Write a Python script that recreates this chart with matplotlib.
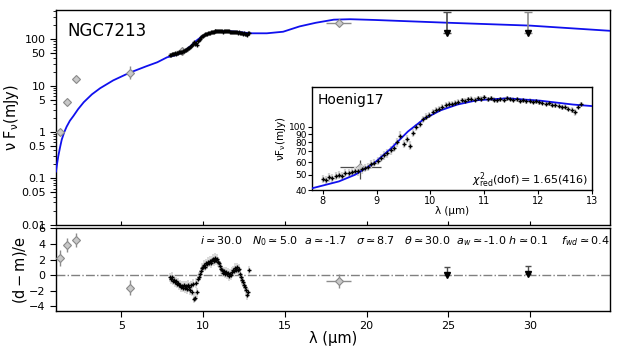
import numpy as np
import matplotlib
matplotlib.use("Agg")
import matplotlib.pyplot as plt
from matplotlib.ticker import FixedLocator, FixedFormatter, LogLocator, NullLocator, NullFormatter

# ---------------- data ----------------
# model SED (blue)
model_lam = [1.0, 1.07, 1.14, 1.25, 1.35, 1.5, 1.65, 1.85, 2.06, 2.35, 2.7, 3.2, 3.7, 4.5, 5.5,
             6.5, 7.2, 7.8, 8.3, 8.6, 8.95, 9.27, 9.58, 9.88, 10.19, 10.5, 10.87, 11.42,
             12.04, 12.65, 13.0, 13.9, 14.9, 15.9, 16.9, 18.0, 19.0, 20.5, 22.0, 25.0, 30.0, 35.0]
model_flux = [0.14, 0.21, 0.30, 0.47, 0.68, 0.98, 1.3, 1.75, 2.2, 3.1, 4.4, 6.5, 8.8, 13.0, 19.0,
              26.0, 32.0, 41.0, 45.3, 49.9, 58.9, 73.2, 93.3, 112.0, 127.0, 138.0, 147.0, 151.0,
              146.0, 138.0, 135.0, 135.0, 146.0, 190.0, 228.0, 266.0, 272.0, 262.0, 250.0, 228.0, 198.0, 152.0]

# spectrum (Hoenig17)
spec_lam = [8.00, 8.06, 8.12, 8.18, 8.24, 8.30, 8.36, 8.42, 8.48, 8.54, 8.60, 8.66, 8.72, 8.78, 8.84, 8.90, 8.96,
            9.02, 9.08, 9.14, 9.20, 9.26, 9.32, 9.38, 9.44, 9.50, 9.56, 9.62, 9.68, 9.74, 9.80, 9.86, 9.92, 9.98,
            10.04, 10.10, 10.16, 10.22, 10.28, 10.34, 10.40, 10.46, 10.52, 10.58, 10.64, 10.70, 10.76, 10.82, 10.88, 10.94,
            11.00, 11.06, 11.12, 11.18, 11.24, 11.30, 11.36, 11.42, 11.48, 11.54, 11.60, 11.66, 11.72, 11.78, 11.84, 11.90, 11.96,
            12.02, 12.08, 12.14, 12.20, 12.26, 12.32, 12.38, 12.44, 12.50, 12.56, 12.62, 12.68, 12.74, 12.80]
spec_flux = [47, 46, 48, 47.5, 49, 50, 49, 51, 51.5, 52, 53, 52.5, 54, 55, 56, 58, 59,
             61, 64, 66, 68, 71, 74, 80, 88, 78, 84, 76, 92, 99, 104, 112, 116, 119,
             124, 128, 130, 133, 137, 139, 140, 142, 144, 147, 146, 149, 150, 148, 151, 150,
             153, 149, 151, 148, 147, 149, 148, 151, 150, 148, 149, 146, 147, 145, 146, 144, 145,
             143, 142, 140, 141, 138, 137, 136, 133, 134, 130, 128, 123, 134, 139]
spec_err = [3.0, 3.0, 3.0, 3.0, 3.0, 3.0, 3.0, 3.0, 3.0, 3.0, 3.2, 3.2, 3.2, 3.2, 3.4, 3.4, 3.5,
            3.6, 3.8, 4.0, 4.2, 4.4, 4.6, 5.0, 5.5, 5.0, 5.2, 5.0, 5.4, 5.5, 5.5, 5.6, 5.6, 5.6,
            5.6, 5.6, 5.6, 5.6, 5.6, 5.6, 5.6, 5.6, 5.6, 5.8, 5.8, 5.8, 5.8, 5.8, 5.8, 5.8,
            5.8, 5.6, 5.6, 5.4, 5.2, 5.0, 5.0, 5.0, 5.0, 5.0, 5.0, 5.0, 5.0, 5.0, 5.0, 5.0, 5.0,
            5.0, 5.0, 5.0, 5.0, 5.0, 5.0, 5.0, 5.0, 5.0, 5.2, 5.4, 5.6, 5.4, 5.2]
spec_resid = [-0.3, -0.5, -0.2, -0.7, -0.6, -0.9, -0.8, -1.1, -1.0, -1.3, -1.2, -1.5, -1.4, -1.6, -1.3, -1.7, -1.4,
              -1.8, -1.2, -1.5, -1.9, -1.3, -2.1, -1.1, -3.0, -2.9, -1.0, -2.2, -0.5, -0.2, 0.1, 0.5, 0.9, 1.0,
              1.3, 1.1, 1.5, 1.4, 1.7, 1.6, 1.8, 1.5, 1.9, 2.1, 1.8, 2.2, 2.0, 1.9, 2.1, 1.7,
              1.5, 1.2, 0.8, 0.6, 0.3, 0.5, 0.2, 0.4, 0.1, 0.3, -0.1, 0.2, 0.0, 0.4, 0.6, 0.5, 0.9,
              0.7, 1.0, 0.6, 0.8, 0.2, -0.3, -0.6, -0.9, -1.2, -1.5, -1.9, -2.6, -2.2, 0.6]
spec_resid_err = [0.6] * len(spec_lam)

# photometry (grey diamonds)
phot_lam = [1.25, 1.65, 2.2, 5.5, 8.7, 18.3]
phot_flux = [1.0, 4.5, 13.8, 19.1, 56.0, 221.0]
phot_flux_lo = [0.05, 0.2, 0.6, 5.0, 9.0, 20.0]
phot_flux_hi = [0.05, 0.2, 0.6, 7.0, 6.0, 20.0]
phot_lam_err = [0.0, 0.0, 0.0, 0.0, 0.38, 0.75]
phot_resid = [2.2, 3.9, 4.5, -1.6, 0.0, -0.7]
phot_resid_err = [1.0, 0.9, 0.9, 1.0, 0.0, 0.9]

# upper limits
ul_lam = [24.9, 29.9]
ul_flux = [386.0, 386.0]
ul_arrow = [137.0, 137.0]
ul_resid = [0.0, 0.2]
ul_resid_top = [1.0, 1.15]

params_text = (r'$i \simeq 30.0$   $N_0 \simeq 5.0$  $a \simeq$-1.7   $\sigma \simeq 8.7$   '
               r'$\theta \simeq 30.0$  $a_w \simeq$-1.0 $h \simeq 0.1$    $f_{wd} \simeq 0.4$')

main_yticks = [0.01, 0.05, 0.1, 0.5, 1, 5, 10, 50, 100]
main_yticklabels = ['0.01', '0.05', '0.1', '0.5', '1', '5', '10', '50', '100']
inset_yticks = [40, 50, 60, 70, 80, 90, 100]
res_yticks = [-4, -2, 0, 2, 4, 6]
res_xticks = [5, 10, 15, 20, 25, 30]
inset_xticks = [8, 9, 10, 11, 12, 13]

# ---------------- figure ----------------
W, H = 623, 346
fig = plt.figure(figsize=(W / 100, H / 100), dpi=100)

def frac(l, t, r, b):
    return [l / W, 1 - b / H, (r - l) / W, (b - t) / H]

ax = fig.add_axes(frac(56, 10, 610, 225))
axr = fig.add_axes(frac(56, 228, 610, 311))
axi = fig.add_axes(frac(312, 87, 592, 190))

blue = '#1010ee'
diam_face = '#c8c8c8'
diam_edge = '#8a8a8a'

def draw_sed(a):
    a.plot(model_lam, model_flux, color=blue, lw=1.3, zorder=3)
    a.errorbar(spec_lam, spec_flux, yerr=spec_err, fmt='none', ecolor='0.82', elinewidth=1.6, zorder=2)
    a.plot(spec_lam, spec_flux, ls='none', marker='+', ms=3.5, mew=1.0, color='k', zorder=4)

# main panel
draw_sed(ax)
for k in range(len(phot_lam)):
    ax.errorbar(phot_lam[k], phot_flux[k],
                yerr=[[phot_flux_lo[k]], [phot_flux_hi[k]]],
                xerr=phot_lam_err[k] if phot_lam_err[k] > 0 else None,
                fmt='D', ms=4.5, mfc=diam_face, mec=diam_edge, mew=0.8,
                ecolor='0.55', elinewidth=1.0, zorder=3 if k != 4 else 3.5)
for k, ul_c in enumerate(['0.3', '0.55']):
    ax.errorbar(ul_lam[k], ul_arrow[k], yerr=[[0], [ul_flux[k] - ul_arrow[k]]],
                fmt='v', ms=5, color='k', ecolor=ul_c, elinewidth=1.2, capsize=3, capthick=1.0, zorder=5)

ax.set_yscale('log')
ax.set_xlim(1.0, 34.9)
ax.set_ylim(0.0098, 430)
ax.yaxis.set_major_locator(FixedLocator(main_yticks))
ax.yaxis.set_major_formatter(FixedFormatter(main_yticklabels))
ax.yaxis.set_minor_locator(LogLocator(base=10, subs=np.arange(2, 10)))
ax.yaxis.set_minor_formatter(NullFormatter())
ax.set_xticks(res_xticks)
ax.tick_params(axis='x', which='both', direction='in', length=3, labelbottom=False)
ax.tick_params(axis='y', which='major', direction='out', length=4, labelsize=8)
ax.tick_params(axis='y', which='minor', direction='out', length=2)
ax.set_ylabel('ν F$_{\\mathregular{ν}}$(mJy)', fontsize=10.5, labelpad=0)
ax.text(0.02, 0.9, 'NGC7213', transform=ax.transAxes, fontsize=12, ha='left', va='center')

# inset
draw_sed(axi)
axi.errorbar(phot_lam[4], phot_flux[4], yerr=[[phot_flux_lo[4]], [phot_flux_hi[4]]],
             xerr=phot_lam_err[4], fmt='D', ms=4, mfc=diam_face, mec=diam_edge, mew=0.6,
             ecolor='0.3', elinewidth=0.9, zorder=1.5)
axi.set_yscale('log')
axi.set_xlim(7.8, 13.0)
axi.set_ylim(40, 178)
axi.yaxis.set_major_locator(FixedLocator(inset_yticks))
axi.yaxis.set_major_formatter(FixedFormatter([str(v) for v in inset_yticks]))
axi.yaxis.set_minor_locator(NullLocator())
axi.set_xticks(inset_xticks)
axi.tick_params(axis='x', which='major', direction='out', length=3, labelsize=7, pad=1)
axi.tick_params(axis='y', which='major', direction='out', length=3, labelsize=6.5, pad=1)
axi.set_ylabel('νF$_{\\mathregular{ν}}$(mJy)', fontsize=7.5, labelpad=1)
axi.set_xlabel('λ (μm)', fontsize=7.5, labelpad=0)
axi.text(0.02, 0.87, 'Hoenig17', transform=axi.transAxes, fontsize=10, ha='left', va='center')
axi.text(0.985, 0.1, r'$\chi^2_{\rm red}\mathrm{(dof) = 1.65(416)}$', transform=axi.transAxes,
         fontsize=8, ha='right', va='center')

# residual panel
axr.axhline(0, color='0.5', lw=1.0, ls='-.', zorder=1)
axr.errorbar(spec_lam, spec_resid, yerr=spec_resid_err, fmt='none', ecolor='0.85',
             elinewidth=1.4, zorder=2)
axr.plot(spec_lam, spec_resid, ls='none', marker='+', ms=3.5, mew=1.0, color='k', zorder=4)
for k in range(len(phot_lam)):
    if k == 4:
        continue
    axr.errorbar(phot_lam[k], phot_resid[k], yerr=phot_resid_err[k],
                 xerr=phot_lam_err[k] if phot_lam_err[k] > 0 else None,
                 fmt='D', ms=4.5, mfc=diam_face, mec=diam_edge, mew=0.8,
                 ecolor='0.55', elinewidth=1.0, zorder=3)
for k in range(len(ul_lam)):
    axr.errorbar(ul_lam[k], ul_resid[k], yerr=[[0], [ul_resid_top[k] - ul_resid[k]]],
                 fmt='v', ms=4.5, color='k', ecolor='0.3', elinewidth=1.0, capsize=2.5, capthick=1.0, zorder=5)
axr.set_xlim(1.0, 34.9)
axr.set_ylim(-4.6, 6.05)
axr.set_yticks(res_yticks)
axr.set_xticks(res_xticks)
axr.tick_params(axis='both', which='major', direction='out', length=4, labelsize=8)
axr.set_ylabel(r'$\mathrm{(d-m)/e}$', fontsize=10.5, labelpad=0)
axr.set_xlabel('λ (μm)', fontsize=10.5, labelpad=0)
axr.text(0.999, 0.84, params_text, transform=axr.transAxes, fontsize=8, ha='right', va='center')

for a in (ax, axr, axi):
    for s in a.spines.values():
        s.set_linewidth(1.0)

fig.align_ylabels([ax, axr])
fig.savefig('out.png', dpi=100)
